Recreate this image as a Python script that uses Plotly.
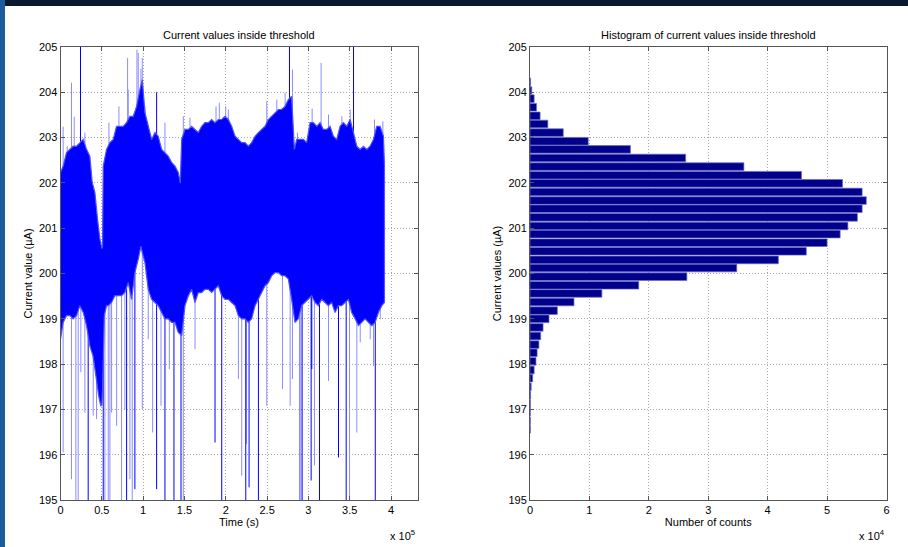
import plotly.graph_objects as go
from plotly.subplots import make_subplots

# ---------------- data (time in units of 1e5 s, current in uA) ----------------
# upper edge of the dense signal band
t_upper = [0.000, 0.032, 0.073, 0.113, 0.153, 0.194, 0.234, 0.275, 0.315, 0.355,
           0.384, 0.416, 0.448, 0.477, 0.501, 0.509, 0.517, 0.557, 0.598, 0.638,
           0.678, 0.719, 0.759, 0.799, 0.840, 0.880, 0.921, 0.961, 0.990, 1.022,
           1.062, 1.103, 1.143, 1.183, 1.224, 1.264, 1.304, 1.345, 1.385, 1.425,
           1.450, 1.466, 1.506, 1.547, 1.587, 1.627, 1.668, 1.708, 1.748, 1.789,
           1.829, 1.869, 1.910, 1.950, 1.991, 2.031, 2.071, 2.112, 2.152, 2.192,
           2.233, 2.273, 2.313, 2.354, 2.394, 2.434, 2.475, 2.515, 2.555, 2.596,
           2.636, 2.676, 2.717, 2.757, 2.797, 2.830, 2.858, 2.899, 2.939, 2.979,
           3.020, 3.060, 3.101, 3.141, 3.181, 3.222, 3.262, 3.302, 3.343, 3.383,
           3.423, 3.464, 3.504, 3.545, 3.585, 3.625, 3.666, 3.706, 3.746, 3.787,
           3.827, 3.867, 3.908, 3.920]
v_upper = [202.23, 202.37, 202.67, 202.74, 202.81, 202.81, 202.89, 202.96, 202.74, 202.59,
           202.01, 201.79, 201.20, 200.76, 200.55, 200.60, 202.37, 202.74, 202.89, 202.96,
           203.25, 203.25, 203.25, 203.33, 203.47, 203.47, 203.69, 204.06, 204.28, 203.55,
           203.25, 202.96, 203.11, 203.03, 202.74, 202.67, 202.59, 202.45, 202.37, 202.23,
           202.00, 202.96, 203.18, 203.18, 203.25, 203.18, 203.11, 203.25, 203.33, 203.33,
           203.40, 203.33, 203.40, 203.40, 203.47, 203.40, 203.25, 203.03, 202.96, 202.89,
           202.89, 202.81, 202.89, 203.03, 203.11, 203.18, 203.25, 203.40, 203.47, 203.55,
           203.62, 203.62, 203.69, 203.84, 203.91, 202.74, 202.96, 202.96, 202.96, 202.89,
           203.33, 203.33, 203.25, 203.33, 203.18, 203.18, 203.25, 203.03, 202.96, 203.25,
           203.33, 203.25, 203.40, 203.11, 202.81, 202.74, 202.81, 202.74, 202.81, 202.96,
           203.25, 203.25, 203.03, 202.40]

# lower edge of the dense signal band
t_lower = [0.000, 0.032, 0.073, 0.113, 0.153, 0.194, 0.234, 0.275, 0.315, 0.355,
           0.394, 0.434, 0.462, 0.487, 0.501, 0.509, 0.530, 0.557, 0.578, 0.618,
           0.658, 0.699, 0.739, 0.779, 0.820, 0.860, 0.900, 0.941, 0.973, 0.990,
           1.022, 1.062, 1.103, 1.143, 1.183, 1.224, 1.264, 1.304, 1.345, 1.385,
           1.425, 1.466, 1.506, 1.547, 1.587, 1.627, 1.668, 1.708, 1.748, 1.789,
           1.829, 1.869, 1.910, 1.950, 1.991, 2.031, 2.071, 2.112, 2.152, 2.192,
           2.233, 2.273, 2.313, 2.354, 2.394, 2.434, 2.475, 2.515, 2.555, 2.596,
           2.636, 2.676, 2.717, 2.757, 2.797, 2.838, 2.878, 2.918, 2.959, 2.999,
           3.040, 3.080, 3.120, 3.161, 3.201, 3.241, 3.282, 3.322, 3.363, 3.403,
           3.443, 3.484, 3.524, 3.565, 3.605, 3.645, 3.686, 3.726, 3.767, 3.807,
           3.847, 3.888, 3.920]
v_lower = [198.55, 198.92, 199.07, 199.07, 199.00, 199.07, 199.29, 199.14, 198.85, 198.40,
           198.18, 197.67, 197.30, 197.08, 197.10, 197.45, 199.07, 199.29, 199.29, 199.36,
           199.51, 199.51, 199.51, 199.58, 199.80, 199.43, 200.02, 200.32, 200.60, 200.46,
           200.24, 199.65, 199.43, 199.36, 199.29, 199.14, 199.00, 199.00, 198.92, 198.92,
           198.70, 198.63, 199.29, 199.51, 199.65, 199.36, 199.58, 199.58, 199.65, 199.65,
           199.58, 199.65, 199.73, 199.51, 199.43, 199.43, 199.36, 199.29, 199.07, 199.00,
           199.00, 198.92, 199.00, 199.29, 199.43, 199.58, 199.73, 199.80, 199.95, 200.02,
           200.02, 199.95, 199.95, 199.88, 199.43, 198.92, 199.00, 199.29, 199.36, 199.43,
           199.51, 199.36, 199.29, 199.43, 199.36, 199.29, 199.36, 199.14, 199.29, 199.29,
           199.36, 199.43, 199.14, 199.00, 198.85, 198.92, 199.00, 198.92, 198.85, 198.92,
           199.14, 199.29, 199.36]

# isolated excursions below the band (time, minimum value); 1 = fully saturated stroke
down_t = [0.032, 0.133, 0.186, 0.214, 0.246, 0.295, 0.335, 0.396, 0.436, 0.517,
          0.537, 0.578, 0.598, 0.618, 0.679, 0.739, 0.779, 0.800, 0.840, 0.868,
          0.900, 0.990, 1.062, 1.115, 1.163, 1.216, 1.264, 1.317, 1.373, 1.458,
          1.486, 1.628, 1.870, 1.951, 2.153, 2.193, 2.242, 2.250, 2.282, 2.395,
          2.496, 2.686, 2.779, 2.807, 2.892, 2.908, 2.924, 3.033, 3.041, 3.073,
          3.134, 3.243, 3.364, 3.457, 3.498, 3.586, 3.627, 3.748, 3.788, 3.809,
          3.869]
down_v = [196.05, 195.46, 194.90, 194.90, 197.82, 196.93, 194.90, 196.86, 196.79, 194.90,
          194.90, 194.90, 194.90, 196.93, 196.64, 194.90, 197.00, 194.90, 195.46, 194.90,
          195.24, 197.00, 198.55, 196.49, 195.24, 197.08, 194.90, 197.89, 194.90, 194.90,
          194.90, 198.33, 196.27, 194.90, 197.67, 195.54, 194.90, 196.24, 195.28, 194.90,
          197.08, 197.45, 197.08, 197.67, 194.90, 194.90, 194.90, 195.43, 197.89, 195.76,
          194.90, 197.63, 195.94, 194.90, 194.90, 196.49, 198.48, 198.55, 197.96, 194.90,
          198.99]
down_strong = [0, 0, 0, 0, 0, 0, 1, 0, 0, 1,
               0, 0, 0, 0, 0, 0, 0, 1, 0, 0,
               1, 0, 0, 0, 1, 0, 1, 0, 1, 1,
               0, 0, 1, 1, 0, 0, 1, 0, 1, 1,
               0, 0, 0, 0, 0, 0, 1, 1, 1, 0,
               1, 0, 1, 1, 0, 0, 0, 0, 0, 1,
               0]

# isolated excursions above the band (time, maximum value)
up_t = [0.032, 0.081, 0.133, 0.166, 0.242, 0.295, 0.586, 0.707, 0.812, 0.820,
        0.889, 0.925, 0.941, 0.973, 0.990, 1.022, 1.163, 1.264, 1.486, 1.567,
        1.882, 1.922, 1.999, 2.031, 2.496, 2.617, 2.718, 2.771, 2.807, 2.868,
        3.045, 3.154, 3.243, 3.405, 3.506, 3.546, 3.800, 3.901]
up_v = [203.24, 202.81, 204.21, 203.46, 205.10, 203.11, 203.33, 203.69, 204.76, 204.06,
        203.47, 204.94, 204.87, 204.52, 204.76, 203.69, 204.00, 203.33, 203.47, 203.44,
        203.69, 203.77, 203.69, 203.62, 203.80, 203.84, 203.99, 205.10, 204.50, 203.11,
        203.64, 204.65, 203.51, 203.47, 203.62, 205.10, 203.40, 203.36]
up_strong = [0, 0, 0, 0, 1, 0, 0, 0, 0, 0,
             0, 0, 0, 0, 0, 0, 1, 0, 0, 0,
             0, 0, 0, 0, 0, 0, 0, 1, 0, 0,
             0, 0, 0, 0, 0, 1, 0, 0]

# histogram: bin centres (uA) and counts
bin_centers = [204.23, 204.04, 203.86, 203.67, 203.48, 203.30, 203.11, 202.92, 202.74, 202.55,
               202.36, 202.17, 201.99, 201.80, 201.61, 201.43, 201.24, 201.05, 200.87, 200.68,
               200.49, 200.30, 200.12, 199.93, 199.74, 199.56, 199.37, 199.18, 199.00, 198.81,
               198.62, 198.43, 198.25, 198.06, 197.87, 197.69, 197.50, 197.31, 197.12, 196.94,
               196.75, 196.56]
counts = [100, 300, 700, 1100, 1700, 3000, 5600, 9800, 16900, 26200,
          36000, 45700, 52600, 55900, 56600, 55900, 55100, 53500, 52200, 50000,
          46500, 41800, 34800, 26400, 18300, 12100, 7400, 4600, 3200, 2200,
          1800, 1500, 1200, 1000, 700, 450, 200, 100, 60, 50,
          50, 50]

# ---------------- figure ----------------
FONT = "Liberation Sans, Arial, Helvetica, sans-serif"
BLUE = "#0000FF"
LIGHT = "#8C8CFF"
W, H = 908, 547

fig = make_subplots(rows=1, cols=2)


def spikes(ts, vs, flags, strong, anchor):
    xs, ys = [], []
    for t, v, f in zip(ts, vs, flags):
        if f == strong:
            xs += [t, t, None]
            ys += [anchor, v, None]
    return xs, ys


# isolated excursions first, so the dense band covers their bases
for strong, color in [(0, LIGHT), (1, BLUE)]:
    xs, ys = spikes(down_t, down_v, down_strong, strong, 201.0)
    xs2, ys2 = spikes(up_t, up_v, up_strong, strong, 201.0)
    fig.add_trace(go.Scatter(x=xs + xs2, y=ys + ys2, mode="lines",
                             line=dict(color=color, width=1.0),
                             hoverinfo="skip", showlegend=False),
                  row=1, col=1)

# dense band as a closed polygon (upper edge then lower edge reversed)
fig.add_trace(go.Scatter(
    x=t_upper + t_lower[::-1], y=v_upper + v_lower[::-1],
    fill="toself", fillcolor=BLUE, mode="lines",
    line=dict(color="#5050FF", width=1.2), hoverinfo="skip", showlegend=False),
    row=1, col=1)

fig.add_trace(go.Bar(
    x=counts, y=bin_centers, orientation="h",
    width=0.168,
    marker=dict(color="#00008A", line=dict(color="#6A6AC8", width=0.7)),
    showlegend=False), row=1, col=2)

axis_common = dict(
    automargin=False,
    showline=True, linecolor="#555555", linewidth=1, mirror="ticks",
    ticks="inside", ticklen=4, tickcolor="#555555",
    showgrid=True, gridcolor="#A8A8A8", griddash="1px,2px", gridwidth=1,
    zeroline=False, tickfont=dict(family=FONT, size=11, color="black"),
    title_font=dict(family=FONT, size=11, color="black"),
)

fig.update_layout(
    width=W, height=H, autosize=False,
    margin=dict(l=0, r=0, t=0, b=0, pad=0),
    paper_bgcolor="white", plot_bgcolor="white",
    font=dict(family=FONT, size=11, color="black"),
)

fig.update_xaxes(domain=[60.5 / W, 417.5 / W], range=[0, 4.32],
                 tickvals=[0, 0.5, 1, 1.5, 2, 2.5, 3, 3.5, 4],
                 ticktext=["0", "0.5", "1", "1.5", "2", "2.5", "3", "3.5", "4"],
                 title_text="Time (s)", title_standoff=2, **axis_common, row=1, col=1)
fig.update_xaxes(domain=[530 / W, 886.5 / W], range=[0, 60000],
                 tickvals=[0, 10000, 20000, 30000, 40000, 50000, 60000],
                 ticktext=["0", "1", "2", "3", "4", "5", "6"],
                 title_text="Number of counts", title_standoff=2, **axis_common, row=1, col=2)
ydom = [(H - 500) / H, (H - 47) / H]
fig.update_yaxes(domain=ydom, range=[195, 205], dtick=1,
                 title_text="Current value (µA)", title_standoff=4, **axis_common, row=1, col=1)
fig.update_yaxes(domain=ydom, range=[195, 205], dtick=1,
                 title_text="Current values (µA)", title_standoff=4, **axis_common, row=1, col=2)

# titles and exponent labels
fig.add_annotation(text="Current values inside threshold", xref="paper", yref="paper",
                   x=(60.5 + 417.5) / 2 / W, y=(H - 35) / H, showarrow=False,
                   font=dict(family=FONT, size=11), xanchor="center", yanchor="middle")
fig.add_annotation(text="Histogram of current values inside threshold", xref="paper", yref="paper",
                   x=(530 + 886.5) / 2 / W, y=(H - 35) / H, showarrow=False,
                   font=dict(family=FONT, size=11), xanchor="center", yanchor="middle")
fig.add_annotation(text="x 10<sup>5</sup>", xref="paper", yref="paper",
                   x=417 / W, y=(H - 535) / H, showarrow=False,
                   font=dict(family=FONT, size=11), xanchor="right", yanchor="middle")
fig.add_annotation(text="x 10<sup>4</sup>", xref="paper", yref="paper",
                   x=887 / W, y=(H - 535) / H, showarrow=False,
                   font=dict(family=FONT, size=11), xanchor="right", yanchor="middle")

# slide frame strips (top dark band, left blue band)
fig.add_shape(type="rect", xref="paper", yref="paper", x0=0, x1=1,
              y0=(H - 6) / H, y1=1, fillcolor="#0A1830", line_width=0, layer="above")
fig.add_shape(type="rect", xref="paper", yref="paper", x0=0, x1=5 / W,
              y0=0, y1=1, fillcolor="#1C5C9C", line_width=0, layer="above")

fig.write_html(
    "out.html",
    config={"displayModeBar": False},
    post_script="document.body.style.margin='0';document.body.style.padding='0';"
                "document.body.style.overflow='hidden';",
)
